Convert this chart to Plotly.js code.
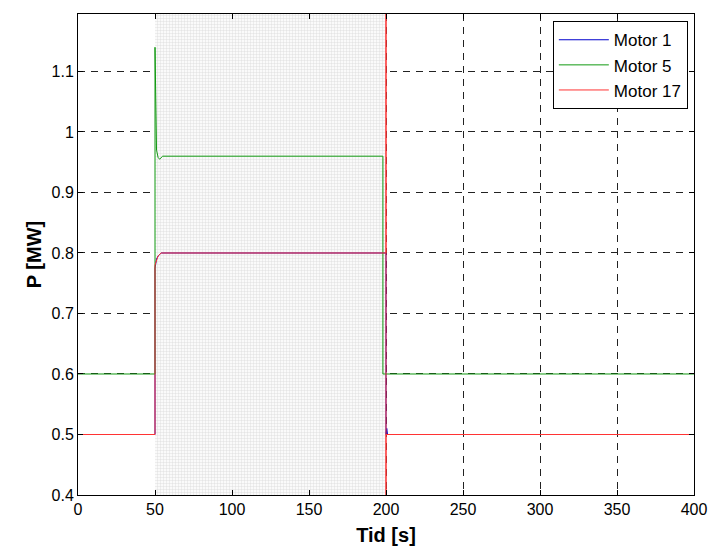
<!DOCTYPE html>
<html>
<head>
<meta charset="utf-8">
<script src="https://cdn.plot.ly/plotly-3.0.1.min.js"></script>
<style>html,body{margin:0;padding:0;background:#fff;}</style>
</head>
<body>
<div id="chart" style="width:709px;height:550px;"></div>
<script>
// Shaded interval
const shadeStart = 50;
const shadeEnd = 200;

// Motor 1
const m1T = [0, 50, 50, 50.5, 51, 52, 54, 200, 200, 200.5, 201, 400];
const m1P = [0.5, 0.5, 0.775, 0.785, 0.79, 0.795, 0.8, 0.8, 0.5, 0.51, 0.5, 0.5];

// Motor 5
const m5T = [0, 50, 50, 50.5, 51, 52, 53, 55, 198, 198, 400];
const m5P = [0.6, 0.6, 1.14, 1.0, 0.97, 0.958, 0.955, 0.96, 0.96, 0.6, 0.6];

// Motor 17
const m17T = [0, 50, 50, 51, 52, 54, 200, 200, 200, 200, 400];
const m17P = [0.5, 0.5, 0.78, 0.79, 0.795, 0.8, 0.8, 1.3, 0.3, 0.5, 0.5];

const xTicks = [0, 50, 100, 150, 200, 250, 300, 350, 400];
const yTicks = [0.4, 0.5, 0.6, 0.7, 0.8, 0.9, 1, 1.1];
const yTickText = ['0.4', '0.5', '0.6', '0.7', '0.8', '0.9', '1', '1.1'];
const xRange = [0, 400];
const yRange = [0.4, 1.195];

const traces = [
  {
    x: [shadeStart, shadeEnd, shadeEnd, shadeStart, shadeStart],
    y: [yRange[0], yRange[0], yRange[1], yRange[1], yRange[0]],
    type: 'scatter', mode: 'none', fill: 'toself',
    fillcolor: 'rgba(255,255,255,1)',
    fillpattern: {shape: '+', size: 3, solidity: 0.25, fgcolor: '#dadada', bgcolor: '#fafafa'},
    showlegend: false, hoverinfo: 'skip'
  },
  {x: m1T, y: m1P, type: 'scatter', mode: 'lines', name: 'Motor 1', line: {color: '#0000cc', width: 1}},
  {x: m5T, y: m5P, type: 'scatter', mode: 'lines', name: 'Motor 5', line: {color: '#119911', width: 1}},
  {x: m17T, y: m17P, type: 'scatter', mode: 'lines', name: 'Motor 17', line: {color: '#ff3333', width: 1}}
];

const fam = 'Liberation Sans, Arial, sans-serif';

const layout = {
  width: 709, height: 550,
  margin: {l: 78, r: 15, t: 14, b: 55},
  paper_bgcolor: '#fff', plot_bgcolor: '#fff',
  font: {family: fam, size: 16, color: '#000'},
  showlegend: true,
  legend: {
    x: 0.99, y: 0.985, xanchor: 'right', yanchor: 'top',
    bgcolor: '#fff', bordercolor: '#000', borderwidth: 1,
    font: {family: fam, size: 17, color: '#000'},
    tracegroupgap: 0, itemwidth: 50
  },
  xaxis: {
    range: xRange, tickvals: xTicks, ticktext: xTicks.map(String),
    showgrid: true, gridcolor: '#222', griddash: '7px,6px', gridwidth: 1,
    zeroline: false, showline: true, linecolor: '#000', linewidth: 1, mirror: 'ticks',
    ticks: 'inside', ticklen: 5, tickcolor: '#000',
    tickfont: {family: fam, size: 16, color: '#000'},
    title: {text: '<b>Tid [s]</b>', font: {family: fam, size: 20, color: '#000'}, standoff: 10}
  },
  yaxis: {
    range: yRange, tickvals: yTicks, ticktext: yTickText,
    showgrid: true, gridcolor: '#222', griddash: '7px,6px', gridwidth: 1,
    zeroline: false, showline: true, linecolor: '#000', linewidth: 1, mirror: 'ticks',
    ticks: 'inside', ticklen: 5, tickcolor: '#000',
    tickfont: {family: fam, size: 16, color: '#000'},
    title: {text: '<b>P [MW]</b>', font: {family: fam, size: 20, color: '#000'}, standoff: 4}
  }
};

Plotly.newPlot('chart', traces, layout, {displayModeBar: false, staticPlot: true});
</script>
</body>
</html>
